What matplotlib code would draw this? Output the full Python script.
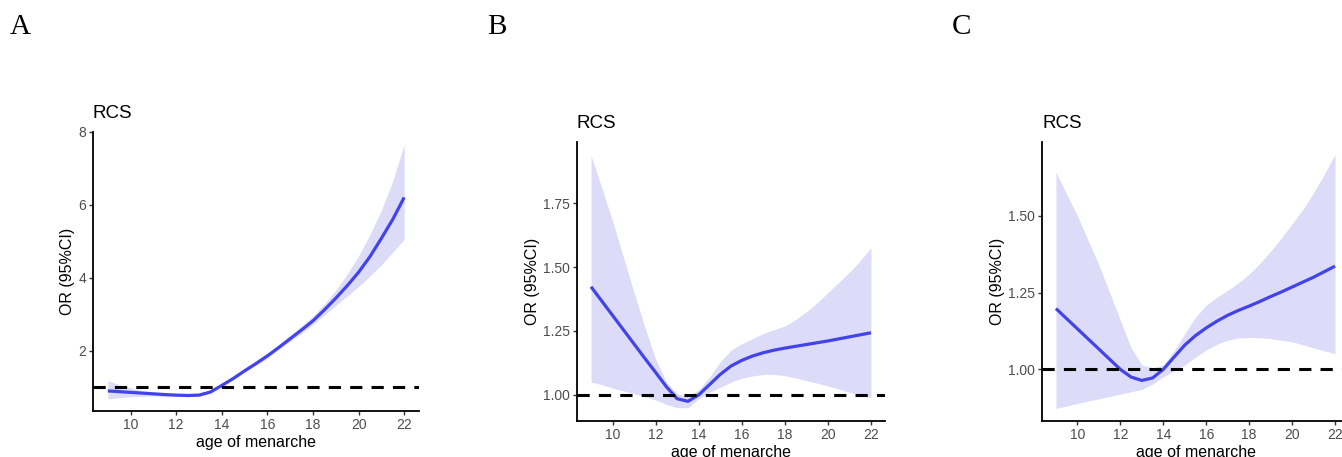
import matplotlib
matplotlib.use("Agg")
import matplotlib.pyplot as plt

# ---------------- data ----------------
age = [9, 9.5, 10, 10.5, 11, 11.5, 12, 12.5, 13, 13.5, 14, 14.5, 15, 15.5, 16,
       16.5, 17, 17.5, 18, 18.5, 19, 19.5, 20, 20.5, 21, 21.5, 22]

or_a = [0.90, 0.88, 0.86, 0.84, 0.82, 0.80, 0.785, 0.775, 0.785, 0.87, 1.05, 1.24, 1.45, 1.65,
        1.86, 2.09, 2.33, 2.57, 2.82, 3.12, 3.44, 3.78, 4.15, 4.58, 5.08, 5.60, 6.20]
up_a = [1.18, 1.07, 0.98, 0.91, 0.87, 0.84, 0.82, 0.81, 0.82, 0.90, 1.08, 1.27, 1.49, 1.70,
        1.92, 2.17, 2.42, 2.68, 2.95, 3.28, 3.66, 4.10, 4.60, 5.18, 5.85, 6.65, 7.65]
lo_a = [0.68, 0.71, 0.74, 0.75, 0.76, 0.755, 0.75, 0.74, 0.75, 0.84, 1.02, 1.21, 1.41, 1.60,
        1.80, 2.04, 2.26, 2.48, 2.72, 2.98, 3.24, 3.50, 3.76, 4.05, 4.35, 4.70, 5.05]

or_b = [1.423, 1.367, 1.311, 1.255, 1.199, 1.143, 1.088, 1.032, 0.985, 0.975, 1.0, 1.04, 1.08,
        1.113, 1.135, 1.152, 1.165, 1.175, 1.183, 1.19, 1.197, 1.204, 1.211, 1.219, 1.227,
        1.235, 1.243]
up_b = [1.937, 1.81, 1.68, 1.54, 1.40, 1.265, 1.14, 1.05, 1.005, 0.995, 1.02, 1.07, 1.13,
        1.175, 1.20, 1.22, 1.24, 1.255, 1.27, 1.295, 1.325, 1.36, 1.40, 1.44, 1.48, 1.525, 1.575]
lo_b = [1.05, 1.04, 1.027, 1.016, 1.005, 0.993, 0.98, 0.963, 0.95, 0.95, 0.985, 1.01, 1.03,
        1.05, 1.065, 1.074, 1.08, 1.08, 1.075, 1.066, 1.056, 1.046, 1.035, 1.023, 1.01, 0.998,
        0.99]

or_c = [1.198, 1.165, 1.132, 1.099, 1.066, 1.033, 1.0, 0.975, 0.964, 0.972, 1.0, 1.04, 1.079,
        1.11, 1.135, 1.157, 1.176, 1.192, 1.206, 1.221, 1.237, 1.252, 1.268, 1.284, 1.30,
        1.318, 1.336]
up_c = [1.642, 1.57, 1.50, 1.42, 1.34, 1.25, 1.16, 1.07, 1.015, 1.005, 1.014, 1.06, 1.117,
        1.17, 1.209, 1.235, 1.257, 1.282, 1.31, 1.345, 1.385, 1.428, 1.474, 1.52, 1.575,
        1.635, 1.70]
lo_c = [0.873, 0.881, 0.889, 0.897, 0.904, 0.912, 0.920, 0.927, 0.935, 0.952, 0.976, 0.995,
        1.014, 1.04, 1.063, 1.082, 1.095, 1.102, 1.104, 1.103, 1.10, 1.095, 1.09, 1.08, 1.07,
        1.06, 1.052]

x_ticks = [10, 12, 14, 16, 18, 20, 22]
y_ticks_a = [2, 4, 6, 8]
y_ticks_b = [1.00, 1.25, 1.50, 1.75]
y_ticks_c = [1.00, 1.25, 1.50]

panel_letters = ["A", "B", "C"]
title = "RCS"
xlabel = "age of menarche"
ylabel = "OR (95%CI)"
ref_value = 1.0

# ---------------- figure ----------------
W, H = 1342, 457
fig = plt.figure(figsize=(W / 100, H / 100), dpi=100)
plt.rcParams['font.family'] = ['Liberation Sans', 'DejaVu Sans']

def frac(l, r, t, b):
    return [l / W, 1 - b / H, (r - l) / W, (b - t) / H]

panels = [
    dict(pos=frac(93, 419, 131.7, 411), y=or_a, up=up_a, lo=lo_a, yt=y_ticks_a,
         ylim=(0.35, 8.0), fmt="{:g}", lx=10),
    dict(pos=frac(577, 885, 141.7, 421), y=or_b, up=up_b, lo=lo_b, yt=y_ticks_b,
         ylim=(0.898, 1.99), fmt="{:.2f}", lx=487),
    dict(pos=frac(1042, 1349, 141.7, 421), y=or_c, up=up_c, lo=lo_c, yt=y_ticks_c,
         ylim=(0.832, 1.741), fmt="{:.2f}", lx=952),
]

line_col = "#4343EC"
fill_col = "#DCDCF8"

for p, letter in zip(panels, panel_letters):
    ax = fig.add_axes(p["pos"])
    ax.fill_between(age, p["lo"], p["up"], color=fill_col, lw=0, zorder=1)
    ax.plot(age, p["y"], color=line_col, lw=2.3, solid_joinstyle='round',
            solid_capstyle='butt', zorder=3)
    ax.axhline(ref_value, color="black", lw=2.2, dashes=(4, 3), zorder=4)
    ax.set_xlim(8.35, 22.65)
    ax.set_ylim(*p["ylim"])
    ax.set_xticks(x_ticks)
    ax.set_yticks(p["yt"])
    ax.set_yticklabels([p["fmt"].format(v) for v in p["yt"]])
    for s in ["top", "right"]:
        ax.spines[s].set_visible(False)
    for s in ["left", "bottom"]:
        ax.spines[s].set_linewidth(1.3)
        ax.spines[s].set_color("black")
    ax.tick_params(axis="both", length=3, width=1.0, color="#333333",
                   labelcolor="#4D4D4D", labelsize=10, pad=2)
    ax.set_xlabel(xlabel, fontsize=11.5, labelpad=2)
    ax.set_ylabel(ylabel, fontsize=11.5, labelpad=2)
    ax.set_title(title, loc="left", fontsize=13.5, pad=10)
    fig.text(p["lx"] / W, 1 - 27 / H, letter, fontsize=21,
             family=["Liberation Serif", "DejaVu Serif"], va="center", ha="left")

fig.savefig("out.png", dpi=100)
